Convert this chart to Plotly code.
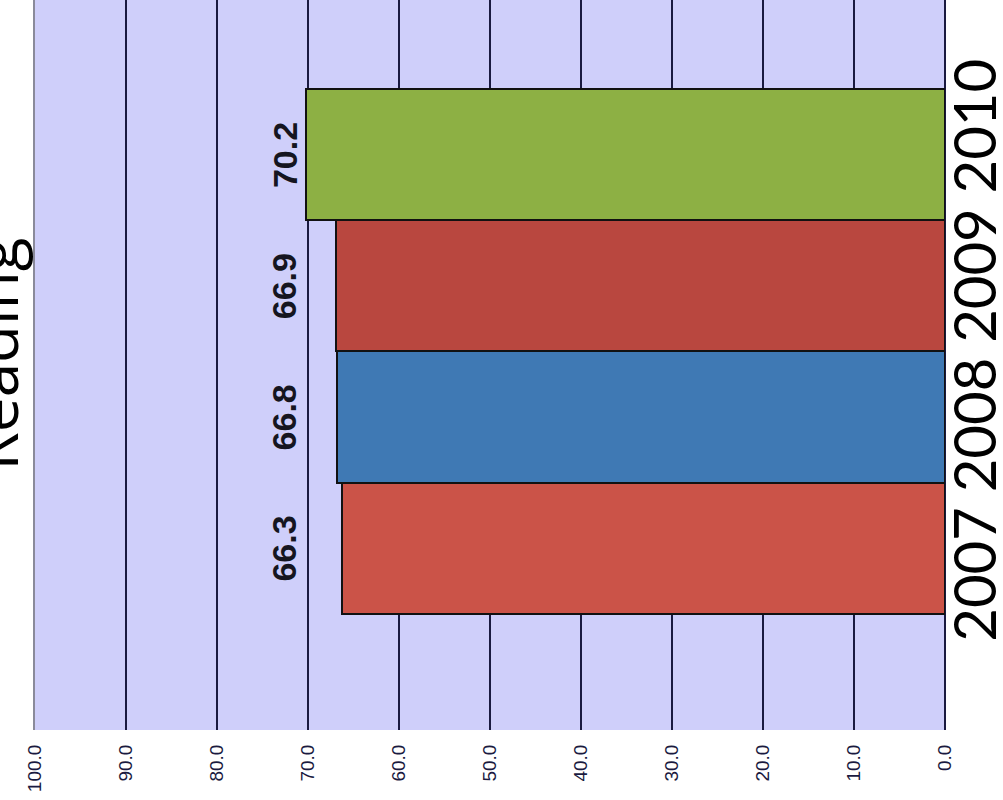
import plotly.graph_objects as go

title = "Reading"
years = ["2007", "2008", "2009", "2010"]
scores = [66.3, 66.8, 66.9, 70.2]
bar_colors = ["#CB5348", "#3F79B4", "#B9473F", "#8DB044"]
x_ticks = [0, 10, 20, 30, 40, 50, 60, 70, 80, 90, 100]

label_x = 72.6

fig = go.Figure()
fig.add_trace(go.Bar(
    x=scores, y=years, orientation="h",
    marker=dict(color=bar_colors, line=dict(color="#111111", width=2)),
    hoverinfo="skip",
))

for i, v in enumerate(scores):
    fig.add_annotation(
        x=label_x, y=i, xref="x", yref="y", text=f"<b>{v:.1f}</b>",
        textangle=-90, showarrow=False,
        font=dict(family="Arial, Liberation Sans", size=34, color="#151520"),
    )

fig.add_annotation(
    xref="paper", yref="paper", x=1.0705, y=0.5205,
    text=" ".join(years), textangle=-90, showarrow=False,
    font=dict(family="Lato", size=58, color="#000000"),
)

fig.add_annotation(
    xref="paper", yref="paper", x=-0.093, y=0.515,
    text=title, textangle=-90, showarrow=False,
    font=dict(family="Open Sans", size=62, color="#000000"),
)

fig.update_layout(
    width=1003, height=800,
    margin=dict(l=35, r=58, t=0, b=70),
    paper_bgcolor="white",
    plot_bgcolor="#CFCFFA",
    bargap=0,
    showlegend=False,
    xaxis=dict(
        range=[100, 0], tickvals=x_ticks, tickformat=".1f", tickangle=-90,
        showgrid=True, gridcolor="#1a1a40", gridwidth=1.5,
        zeroline=True, zerolinecolor="#1a1a40", zerolinewidth=2,
        showline=False,
        ticks="outside", ticklen=6, tickcolor="white",
        tickfont=dict(family="Arial, Liberation Sans", size=19, color="#1a1a40"),
    ),
    yaxis=dict(
        type="category", categoryorder="array", categoryarray=years,
        range=[-1.386, 4.18], showticklabels=False, showgrid=False,
        zeroline=False, showline=True, linecolor="#8a8a9a", linewidth=2,
    ),
)

fig.write_html("out.html", config={"displayModeBar": False},
               post_script="document.body.style.margin='0';")
